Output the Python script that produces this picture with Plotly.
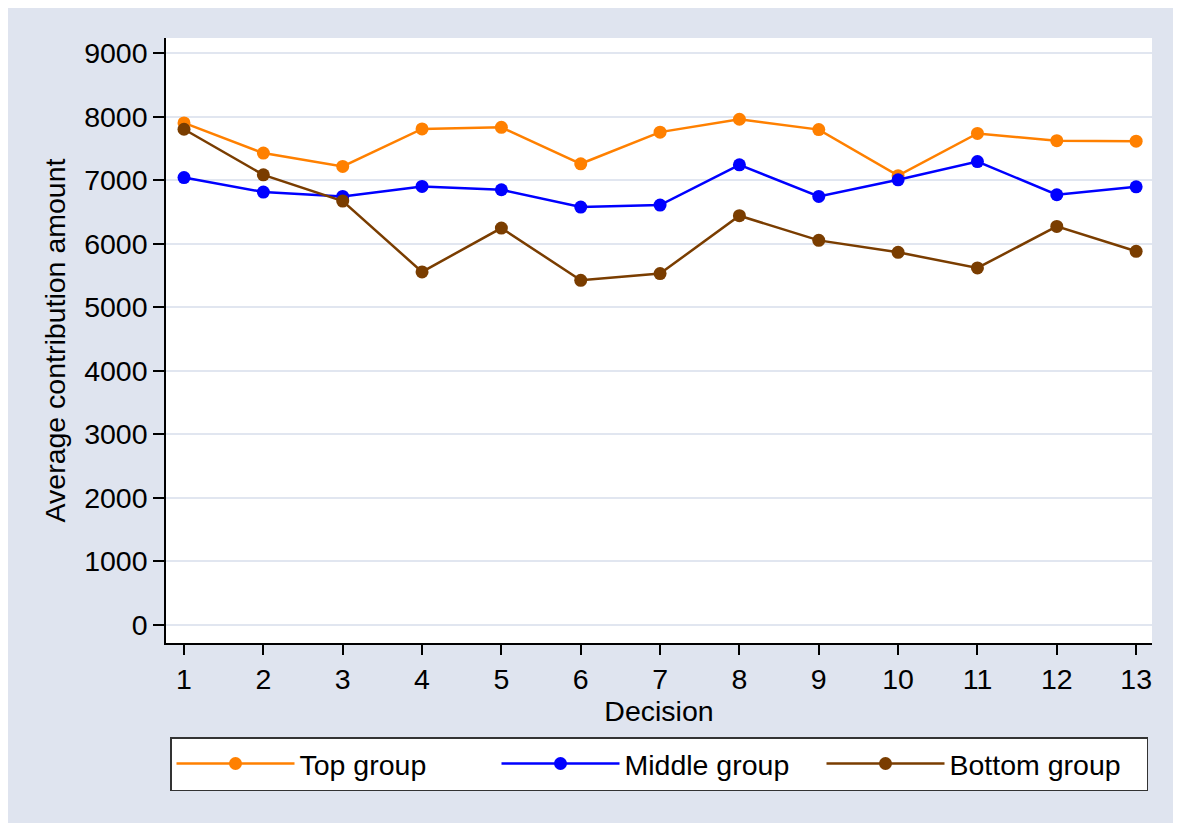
import plotly.graph_objects as go

decisions = list(range(1, 14))
top_group = [7900, 7425, 7215, 7805, 7830, 7257, 7755, 7958, 7795, 7070, 7734, 7620, 7612]
middle_group = [7040, 6812, 6743, 6900, 6848, 6576, 6607, 7240, 6743, 7005, 7292, 6770, 6895]
bottom_group = [7800, 7083, 6670, 5556, 6246, 5424, 5529, 6440, 6052, 5864, 5618, 6272, 5880]
y_ticks = [0, 1000, 2000, 3000, 4000, 5000, 6000, 7000, 8000, 9000]

series = [
    ("Top group", top_group, "#FF8000"),
    ("Middle group", middle_group, "#0000FF"),
    ("Bottom group", bottom_group, "#7A3D00"),
]

FONT = "Liberation Sans, Arial, sans-serif"
BG = "#DFE4EF"

fig = go.Figure()
for name, vals, col in series:
    fig.add_trace(go.Scatter(
        x=decisions, y=vals, name=name, mode="lines+markers",
        line=dict(color=col, width=2.5),
        marker=dict(color=col, size=13, symbol="circle"),
    ))

# page body adds an 8px offset at top/left
OFF = 8
W, H = 1181, 823
L, T = 166 - OFF, 38 - OFF
pw, ph = 986, 605
R, B = W - L - pw, H - T - ph

fig.update_layout(
    width=W, height=H,
    margin=dict(l=L, r=R, t=T, b=B, autoexpand=False),
    paper_bgcolor=BG,
    plot_bgcolor="white",
    font=dict(family=FONT, size=28, color="black"),
    showlegend=True,
    legend=dict(
        orientation="h", x=0.5, xanchor="center",
        y=-(737 - 643) / ph, yanchor="top",
        bgcolor="white", bordercolor="#333333", borderwidth=1.5,
        font=dict(size=28.5), itemwidth=118,
        entrywidth=192, entrywidthmode="pixels",
        tracegroupgap=0,
    ),
)

fig.update_xaxes(
    range=[0.773, 13.2], tickvals=decisions, ticktext=[str(d) for d in decisions],
    showgrid=False, zeroline=False,
    showline=True, linecolor="black", linewidth=1.5,
    ticks="outside", ticklen=10, tickwidth=1.5, tickcolor="black",
    tickfont=dict(size=28.5),
    title=dict(text="Decision", font=dict(size=28.5), standoff=2),
    automargin=False,
)
fig.update_yaxes(
    range=[-283, 9236], tickvals=y_ticks, ticktext=[str(v) for v in y_ticks],
    showgrid=True, gridcolor="#E1E6F0", gridwidth=2,
    zeroline=False,
    showline=True, linecolor="black", linewidth=1.5,
    ticks="outside", ticklen=11, tickwidth=1.5, tickcolor="black",
    tickfont=dict(size=28.5),
    title=dict(text="Average contribution amount", font=dict(size=28.5), standoff=10),
    automargin=False,
)

fig.write_html("out.html")
